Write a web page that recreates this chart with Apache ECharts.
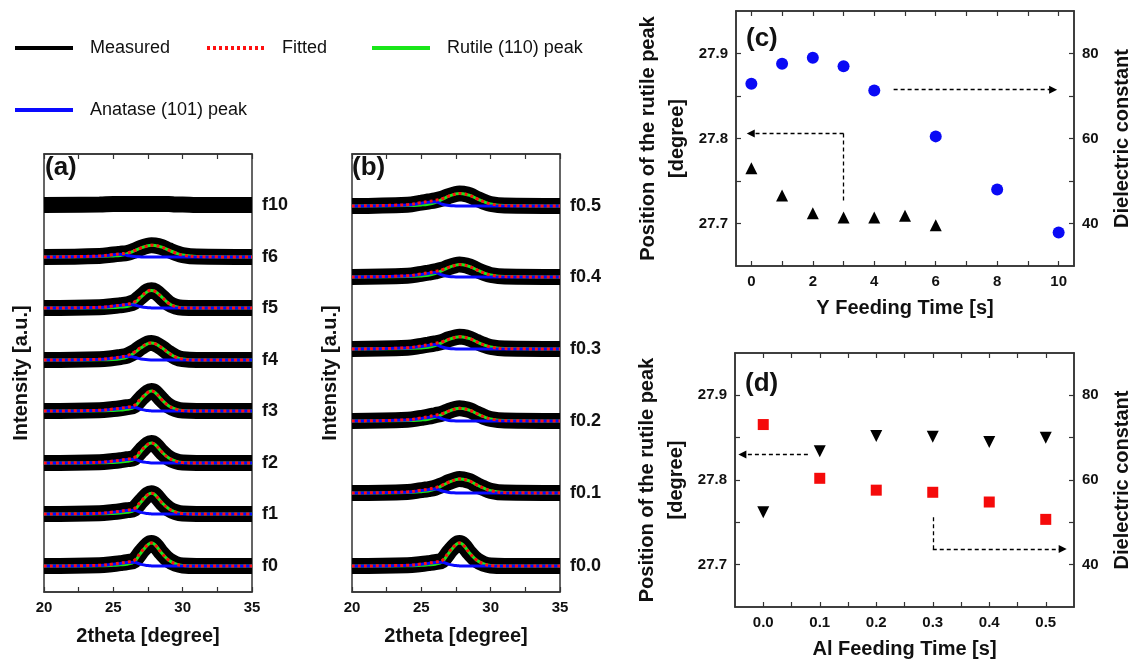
<!DOCTYPE html>
<html>
<head>
<meta charset="utf-8">
<script src="https://cdn.jsdelivr.net/npm/echarts@6/dist/echarts.min.js"></script>
<style>
html,body{margin:0;padding:0;background:#fff;}
#main{width:1133px;height:660px;}
</style>
</head>
<body>
<div id="main"></div>
<script>
// ---------- DATA ----------
// 2theta sample grid used for the XRD profiles (degree)
const twoTheta = [20, 24, 25, 25.5, 26, 26.5, 27, 27.5, 27.75, 28, 28.5, 29, 29.5, 30, 31, 35];

// Panel (a): Y feeding series
const labelsA = ['f0', 'f1', 'f2', 'f3', 'f4', 'f5', 'f6', 'f10'];
const offsetsA = [26, 78, 129, 181, 232, 284, 335, 387];
const fittedA = [
  [0, .7, 2, 2.9, 3.9, 5.5, 14, 21.6, 23.1, 21.4, 12.7, 5.8, 2.1, .5, 0, 0],
  [0, .7, 2, 2.8, 3.8, 5.3, 12.8, 19.6, 20.8, 19.3, 11.4, 5.2, 1.9, .4, 0, 0],
  [0, .7, 2, 2.8, 3.8, 5.2, 12.4, 18.9, 20.1, 18.6, 11, 5, 1.8, .4, 0, 0],
  [0, .7, 2, 2.8, 3.8, 5.4, 12.6, 18.8, 20.1, 18.7, 11.2, 5.1, 1.9, .4, 0, 0],
  [0, .7, 2, 3, 4.4, 7.8, 12.8, 16.6, 17.1, 16.3, 12.2, 7, 2.9, .9, 0, 0],
  [0, .7, 2, 2.8, 3.7, 6, 11.6, 17, 17.7, 16.7, 10.9, 4.6, 1.3, .2, 0, 0],
  [0, 1, 2.5, 3.2, 4, 6.3, 9.1, 11.2, 11.7, 11.5, 9.8, 6.8, 4, 1.9, .4, 0],
  null
];
const rutileA = [
  [0, .2, .7, 1.2, 1.8, 4.1, 13.3, 21.4, 23, 21.4, 12.7, 5.8, 2.1, .5, 0, 0],
  [0, .2, .6, 1, 1.7, 3.7, 12, 19.3, 20.7, 19.3, 11.4, 5.2, 1.9, .4, 0, 0],
  [0, .2, .6, 1, 1.6, 3.6, 11.6, 18.6, 20, 18.6, 11, 5, 1.8, .4, 0, 0],
  [0, .2, .6, 1, 1.6, 3.8, 11.8, 18.5, 20, 18.7, 11.2, 5.1, 1.9, .4, 0, 0],
  [0, .2, .5, 1.2, 2.9, 7, 12.2, 16.3, 17, 16.3, 12.2, 7, 2.9, .9, 0, 0],
  [0, .2, .5, .9, 1.4, 4.6, 10.9, 16.7, 17.6, 16.7, 10.9, 4.6, 1.3, .2, 0, 0],
  [0, .5, 1.1, 1.6, 3.3, 6.1, 9.1, 11.2, 11.7, 11.5, 9.8, 6.8, 4, 1.9, .4, 0],
  null
];
const anataseA = [
  [0, .6, 1.8, 2.6, 3.4, 3.8, 1.6, .4, .1, 0, 0, 0, 0, 0, 0, 0],
  [0, .6, 1.8, 2.6, 3.4, 3.8, 1.6, .4, .1, 0, 0, 0, 0, 0, 0, 0],
  [0, .6, 1.8, 2.6, 3.4, 3.7, 1.5, .4, .1, 0, 0, 0, 0, 0, 0, 0],
  [0, .6, 1.8, 2.6, 3.4, 3.8, 1.6, .4, .1, 0, 0, 0, 0, 0, 0, 0],
  [0, .6, 1.8, 2.7, 3.8, 2.8, 1, .3, .1, 0, 0, 0, 0, 0, 0, 0],
  [0, .6, 1.8, 2.6, 3.5, 3, 1.2, .3, .1, 0, 0, 0, 0, 0, 0, 0],
  [0, .8, 2.2, 2.8, 1.6, .5, .1, 0, 0, 0, 0, 0, 0, 0, 0, 0],
  null
];
// centre line of the measured (noisy) band; f10 shows no peak
const measuredA = [
  fittedA[0], fittedA[1], fittedA[2], fittedA[3], fittedA[4], fittedA[5], fittedA[6],
  [0, .5, 1, 1, 1, 1, 1, 1, 1, 1, 1, 1, .5, .5, 0, 0]
];

// Panel (b): Al feeding series
const labelsB = ['f0.0', 'f0.1', 'f0.2', 'f0.3', 'f0.4', 'f0.5'];
const offsetsB = [26, 99, 171, 243, 315, 386];
const fittedB = [
  [0, .7, 2, 2.9, 3.9, 5.5, 14, 21.6, 23.1, 21.4, 12.7, 5.8, 2.1, .5, 0, 0],
  [0, 1.1, 2.9, 3.9, 5.3, 7.9, 11, 13.4, 14, 13.7, 11.8, 8.1, 4.8, 2.2, .4, 0],
  [0, 1.2, 3.2, 4.3, 5.8, 7.4, 10.1, 12.2, 12.7, 12.4, 10.7, 7.4, 4.3, 2, .4, 0],
  [0, 1.2, 3.2, 4.3, 5.6, 7.2, 9.8, 11.8, 12.3, 12.1, 10.3, 7.1, 4.2, 2, .4, 0],
  [0, 1.2, 3.2, 4.3, 5.6, 7.3, 9.9, 11.9, 12.4, 12.2, 10.4, 7.2, 4.2, 2, .4, 0],
  [0, 1.3, 3.4, 4.5, 5.6, 7.4, 10, 12.1, 12.6, 12.3, 10.6, 7.3, 4.3, 2, .4, 0]
];
const rutileB = [
  [0, .2, .7, 1.2, 1.8, 4.1, 13.3, 21.4, 23, 21.4, 12.7, 5.8, 2.1, .5, 0, 0],
  [0, .6, 1.3, 2, 3.9, 7.3, 10.9, 13.4, 14, 13.7, 11.8, 8.1, 4.8, 2.2, .4, 0],
  [0, .5, 1.1, 1.8, 3.6, 6.6, 9.9, 12.2, 12.7, 12.4, 10.7, 7.4, 4.3, 2, .4, 0],
  [0, .5, 1.1, 1.7, 3.4, 6.4, 9.6, 11.8, 12.3, 12.1, 10.3, 7.1, 4.2, 2, .4, 0],
  [0, .5, 1.1, 1.7, 3.5, 6.4, 9.7, 11.9, 12.4, 12.2, 10.4, 7.2, 4.2, 2, .4, 0],
  [0, .5, 1.1, 1.8, 3.5, 6.6, 9.8, 12.1, 12.6, 12.3, 10.6, 7.3, 4.3, 2, .4, 0]
];
const anataseB = [
  [0, .6, 1.8, 2.6, 3.4, 3.8, 1.6, .4, .1, 0, 0, 0, 0, 0, 0, 0],
  [0, .8, 2.4, 3.3, 4.1, 2, .6, .1, 0, 0, 0, 0, 0, 0, 0, 0],
  [0, .9, 2.6, 3.6, 4.5, 2.2, .6, .1, 0, 0, 0, 0, 0, 0, 0, 0],
  [0, .9, 2.6, 3.6, 4.4, 2, .5, .1, 0, 0, 0, 0, 0, 0, 0, 0],
  [0, .9, 2.6, 3.6, 4.4, 2, .5, .1, 0, 0, 0, 0, 0, 0, 0, 0],
  [0, 1, 2.8, 3.8, 4.2, 1.8, .5, .1, 0, 0, 0, 0, 0, 0, 0, 0]
];
const measuredB = fittedB;

// Panel (c)
const yFeedTimeDiel = [0, 1, 2, 3, 4, 6, 8, 10];
const dielectricC = [72.9, 77.6, 79.0, 77.0, 71.3, 60.5, 48.0, 37.9];
const yFeedTimePos = [0, 1, 2, 3, 4, 5, 6];
const peakPosC = [27.765, 27.733, 27.712, 27.707, 27.707, 27.709, 27.698];
const arrowC_right = [[4.63, 71.5], [9.82, 71.5]];
const arrowC_leftV = [[3, 27.727], [3, 27.806]];
const arrowC_leftH = [[3, 27.806], [-0.02, 27.806]];

// Panel (d)
const alFeedTime = [0, 0.1, 0.2, 0.3, 0.4, 0.5];
const dielectricD = [73.1, 60.4, 57.6, 57.1, 54.8, 50.7];
const peakPosD = [27.762, 27.834, 27.852, 27.851, 27.845, 27.850];
const arrowD_left = [[0.079, 27.830], [-0.037, 27.830]];
const arrowD_rightV = [[0.3, 51.2], [0.3, 43.7]];
const arrowD_rightH = [[0.3, 43.7], [0.53, 43.7]];

// ---------- CHART ----------
const FONT = 'Liberation Sans, Arial, Helvetica, sans-serif';
const AX = '#333';
const chart = echarts.init(document.getElementById('main'), null, {renderer: 'canvas'});

const grids = [
  {left: 44, top: 154, width: 208, height: 438},
  {left: 352, top: 154, width: 208, height: 438},
  {left: 736, top: 11, width: 342, height: 255},
  {left: 735, top: 353, width: 343, height: 255}
].map(g => Object.assign({show: true, borderColor: AX, borderWidth: 1.5, backgroundColor: 'transparent'}, g));

function tick(custom) {
  const t = {show: true, inside: true, length: 5, lineStyle: {color: AX, width: 1.2}};
  if (custom) t.customValues = custom;
  return t;
}
const lblStyle = {color: '#111', fontFamily: FONT, fontWeight: 'bold', fontSize: 15};
const nameStyle = {color: '#111', fontFamily: FONT, fontWeight: 'bold', fontSize: 20};

function xrdX(gi, pos, withLabel) {
  return {
    type: 'value', gridIndex: gi, position: pos, min: 20, max: 35, interval: 2.5,
    axisLine: {show: true, onZero: false, lineStyle: {color: AX, width: 1.5}},
    axisTick: tick(), splitLine: {show: false},
    axisLabel: withLabel ? Object.assign({show: true, margin: 8,
      formatter: v => (Math.abs(v % 5) < 1e-6 ? String(v) : '')}, lblStyle) : {show: false},
    name: withLabel ? '2theta [degree]' : '', nameLocation: 'middle', nameGap: 34, nameTextStyle: nameStyle
  };
}
const xAxes = [
  xrdX(0, 'bottom', true), xrdX(0, 'top', false),
  xrdX(1, 'bottom', true), xrdX(1, 'top', false),
  {type: 'value', gridIndex: 2, position: 'bottom', min: -0.5, max: 10.5,
   axisLine: {onZero: false, lineStyle: {color: AX, width: 1.5}},
   axisTick: tick([0, 1, 2, 3, 4, 5, 6, 7, 8, 9, 10]), splitLine: {show: false},
   axisLabel: Object.assign({customValues: [0, 2, 4, 6, 8, 10], margin: 8}, lblStyle),
   name: 'Y Feeding Time [s]', nameLocation: 'middle', nameGap: 32, nameTextStyle: nameStyle},
  {type: 'value', gridIndex: 2, position: 'top', min: -0.5, max: 10.5,
   axisLine: {onZero: false, lineStyle: {color: AX, width: 1.5}},
   axisTick: tick([0, 1, 2, 3, 4, 5, 6, 7, 8, 9, 10]), splitLine: {show: false}, axisLabel: {show: false}},
  {type: 'value', gridIndex: 3, position: 'bottom', min: -0.05, max: 0.55,
   axisLine: {onZero: false, lineStyle: {color: AX, width: 1.5}},
   axisTick: tick([0, 0.05, 0.1, 0.15, 0.2, 0.25, 0.3, 0.35, 0.4, 0.45, 0.5]), splitLine: {show: false},
   axisLabel: Object.assign({customValues: [0, 0.1, 0.2, 0.3, 0.4, 0.5], margin: 8, formatter: v => v.toFixed(1)}, lblStyle),
   name: 'Al Feeding Time [s]', nameLocation: 'middle', nameGap: 32, nameTextStyle: nameStyle},
  {type: 'value', gridIndex: 3, position: 'top', min: -0.05, max: 0.55,
   axisLine: {onZero: false, lineStyle: {color: AX, width: 1.5}},
   axisTick: tick([0, 0.05, 0.1, 0.15, 0.2, 0.25, 0.3, 0.35, 0.4, 0.45, 0.5]), splitLine: {show: false}, axisLabel: {show: false}}
];

function posAxis(gi) {
  return {type: 'value', gridIndex: gi, position: 'left', min: 27.65, max: 27.95,
    axisLine: {onZero: false, lineStyle: {color: AX, width: 1.5}},
    axisTick: tick([27.7, 27.75, 27.8, 27.85, 27.9]), splitLine: {show: false},
    axisLabel: Object.assign({customValues: [27.7, 27.8, 27.9], margin: 8, formatter: v => v.toFixed(1)}, lblStyle),
    name: 'Position of the rutile peak\n[degree]', nameLocation: 'middle', nameGap: 44,
    nameTextStyle: Object.assign({lineHeight: 29}, nameStyle)};
}
function dielAxis(gi) {
  return {type: 'value', gridIndex: gi, position: 'right', min: 30, max: 90,
    axisLine: {onZero: false, lineStyle: {color: AX, width: 1.5}},
    axisTick: tick([40, 50, 60, 70, 80]), splitLine: {show: false},
    axisLabel: Object.assign({customValues: [40, 60, 80], margin: 8}, lblStyle),
    name: 'Dielectric constant', nameLocation: 'middle', nameGap: 38, nameTextStyle: nameStyle};
}
function intensityAxis(gi, gap) {
  return {type: 'value', gridIndex: gi, min: 0, max: 438,
    axisLine: {show: false}, axisTick: {show: false}, axisLabel: {show: false}, splitLine: {show: false},
    name: 'Intensity [a.u.]', nameLocation: 'middle', nameGap: gap, nameTextStyle: nameStyle};
}
const yAxes = [intensityAxis(0, 13), intensityAxis(1, 12), posAxis(2), dielAxis(2), posAxis(3), dielAxis(3)];

const series = [];
function addTraces(xi, yi, labels, offsets, meas, fit, rut, ana) {
  labels.forEach((lab, i) => {
    const off = offsets[i];
    const pts = arr => twoTheta.map((x, j) => [x, off + arr[j]]);
    series.push({
      name: 'Measured', type: 'line', xAxisIndex: xi, yAxisIndex: yi, data: pts(meas[i]),
      symbol: 'none', smooth: 0.4, lineStyle: {color: '#000', width: 16}, itemStyle: {color: '#000'},
      endLabel: {show: true, formatter: () => lab, distance: 10, color: '#111',
        fontFamily: FONT, fontWeight: 'bold', fontSize: 18},
      z: 1, silent: true
    });
    if (rut[i]) series.push({
      name: 'Rutile (110) peak', type: 'line', xAxisIndex: xi, yAxisIndex: yi, data: pts(rut[i]),
      symbol: 'none', smooth: 0.4, lineStyle: {color: '#19e619', width: 3}, itemStyle: {color: '#19e619'}, z: 2, silent: true
    });
    if (ana[i]) series.push({
      name: 'Anatase (101) peak', type: 'line', xAxisIndex: xi, yAxisIndex: yi, data: pts(ana[i]),
      symbol: 'none', smooth: 0.4, lineStyle: {color: '#0a0aff', width: 3}, itemStyle: {color: '#0a0aff'}, z: 3, silent: true
    });
    if (fit[i]) series.push({
      name: 'Fitted', type: 'line', xAxisIndex: xi, yAxisIndex: yi, data: pts(fit[i]),
      symbol: 'none', smooth: 0.4, lineStyle: {color: '#ff1010', width: 3, type: [3, 3]}, itemStyle: {color: '#ff1010'}, z: 4, silent: true
    });
  });
}
addTraces(0, 0, labelsA, offsetsA, measuredA, fittedA, rutileA, anataseA);
addTraces(2, 1, labelsB, offsetsB, measuredB, fittedB, rutileB, anataseB);

function arrowLines(segs) {
  return {
    silent: true, symbolSize: 8, label: {show: false},
    lineStyle: {color: '#000', width: 1.3, type: [4, 3]},
    data: segs.map(s => [{coord: s.p[0], symbol: 'none'}, {coord: s.p[1], symbol: s.arrow ? 'triangle' : 'none'}])
  };
}

series.push({
  name: 'dielC', type: 'scatter', xAxisIndex: 4, yAxisIndex: 3,
  data: yFeedTimeDiel.map((x, i) => [x, dielectricC[i]]),
  symbol: 'circle', symbolSize: 12, itemStyle: {color: '#0a0af5', opacity: 1},
  markLine: arrowLines([{p: arrowC_right, arrow: true}])
});
series.push({
  name: 'posC', type: 'scatter', xAxisIndex: 4, yAxisIndex: 2,
  data: yFeedTimePos.map((x, i) => [x, peakPosC[i]]),
  symbol: 'triangle', symbolSize: 12, itemStyle: {color: '#000', opacity: 1},
  markLine: arrowLines([{p: arrowC_leftV, arrow: false}, {p: arrowC_leftH, arrow: true}])
});
series.push({
  name: 'dielD', type: 'scatter', xAxisIndex: 6, yAxisIndex: 5,
  data: alFeedTime.map((x, i) => [x, dielectricD[i]]),
  symbol: 'rect', symbolSize: 11, itemStyle: {color: '#f50a0a', opacity: 1},
  markLine: arrowLines([{p: arrowD_rightV, arrow: false}, {p: arrowD_rightH, arrow: true}])
});
series.push({
  name: 'posD', type: 'scatter', xAxisIndex: 6, yAxisIndex: 4,
  data: alFeedTime.map((x, i) => [x, peakPosD[i]]),
  symbol: 'triangle', symbolRotate: 180, symbolSize: 12, itemStyle: {color: '#000', opacity: 1},
  markLine: arrowLines([{p: arrowD_left, arrow: true}])
});

function legendAt(name, left, top, lineColor, dash) {
  return {
    show: true, left: left, top: top, itemWidth: 58, itemHeight: 12, selectedMode: false,
    data: [{name: name, itemStyle: {opacity: 0}, lineStyle: {width: 4, color: lineColor, type: dash || 'solid'}}],
    textStyle: {fontFamily: FONT, fontSize: 18, color: '#111', padding: [0, 0, 0, 12]}
  };
}
const legends = [
  legendAt('Measured', 8, 34, '#000'),
  legendAt('Fitted', 200, 34, '#ff1010', [3, 3]),
  legendAt('Rutile (110) peak', 365, 34, '#19e619'),
  legendAt('Anatase (101) peak', 8, 96, '#0a0aff')
];

const panelLetter = (t, x, y) => ({type: 'text', left: x, top: y, z: 100,
  style: {text: t, font: 'bold 26px ' + FONT, fill: '#111'}});

chart.setOption({
  animation: false,
  backgroundColor: '#fff',
  grid: grids,
  xAxis: xAxes,
  yAxis: yAxes,
  legend: legends,
  series: series,
  graphic: [
    panelLetter('(a)', 45, 155),
    panelLetter('(b)', 352, 155),
    panelLetter('(c)', 746, 26),
    panelLetter('(d)', 745, 371)
  ]
});
</script>
</body>
</html>
